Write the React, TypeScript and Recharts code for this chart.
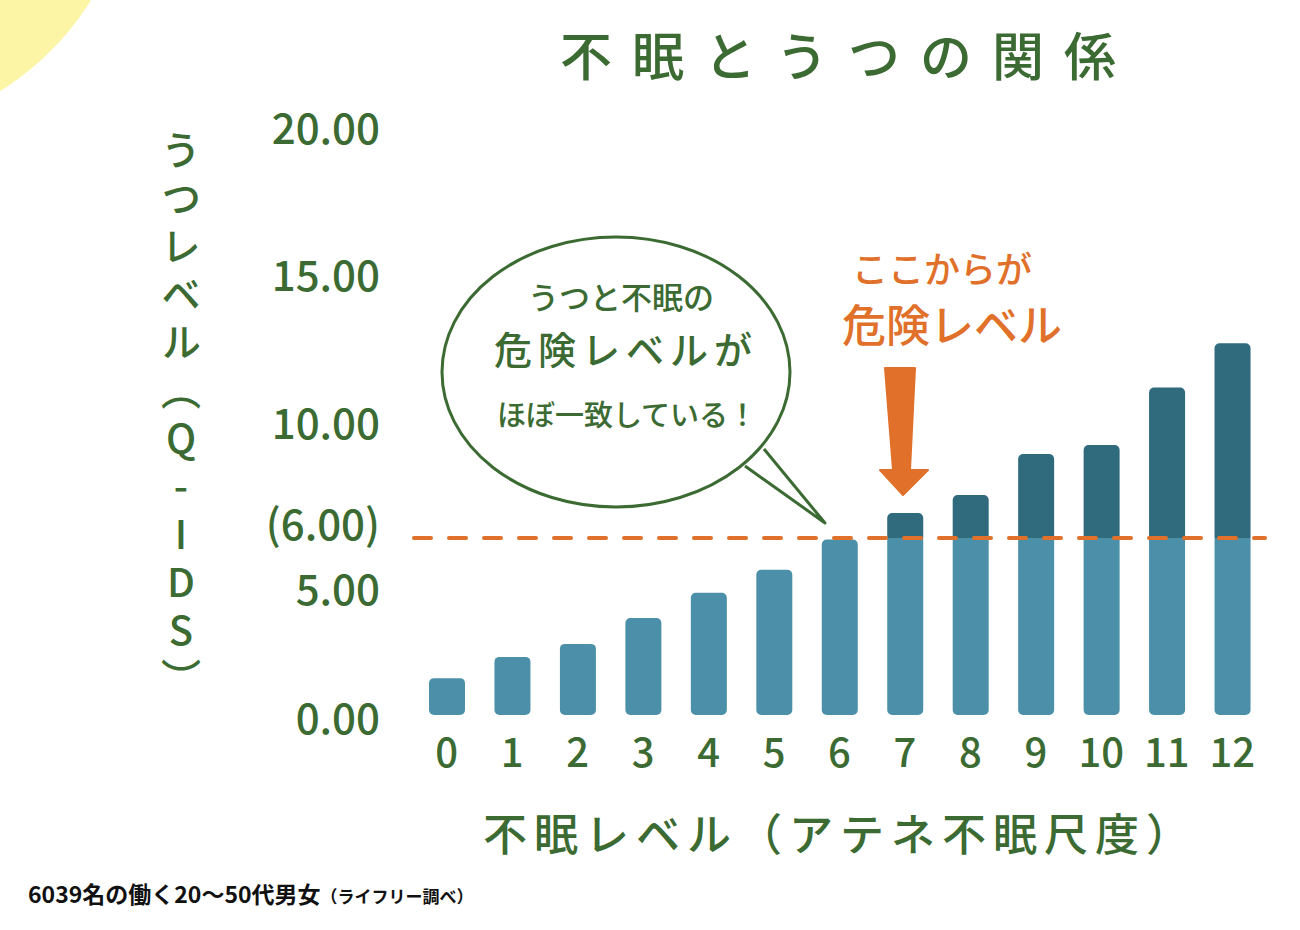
import React from "react";
import { BarChart, Bar, XAxis, YAxis, ReferenceLine, Rectangle } from "recharts";

// 不眠レベル（アテネ不眠尺度） 0〜12
const insomniaLevels = ["0", "1", "2", "3", "4", "5", "6", "7", "8", "9", "10", "11", "12"];
// うつレベル（Q-IDS）平均値
const depressionScores = [1.25, 1.97, 2.41, 3.29, 4.14, 4.92, 5.95, 6.85, 7.46, 8.85, 9.15, 11.1, 12.6];
const dangerLine = 6;
const yTicks = [0, 5, 6, 10, 15, 20];

const GREEN = "#3b6b32";
const ORANGE = "#e0702a";
const LIGHT = "#4b8fa9";
const DARK = "#2f6a7d";
const FONT = "'Noto Sans CJK JP', 'Noto Sans', sans-serif";

const data = insomniaLevels.map((level, i) => ({
  level,
  base: Math.min(depressionScores[i], dangerLine),
  over: Math.max(depressionScores[i] - dangerLine, 0),
}));

const BaseShape = (props: any) => {
  const r = props.payload && props.payload.over > 0 ? [0, 0, 5, 5] : [5, 5, 5, 5];
  return <Rectangle {...props} radius={r} />;
};

const OverShape = (props: any) => <Rectangle {...props} radius={[5, 5, 0, 0]} />;

const YTick = (props: any) => {
  const { x, y, payload } = props;
  const v = payload.value;
  const label = v === dangerLine ? "(6.00)" : v.toFixed(2);
  // 5 と 6 のラベルが重ならないよう少しずらす
  const dy = v === dangerLine ? -17 : v === 5 ? 19 : 0;
  return (
    <text x={x} y={y + dy} textAnchor="end" dominantBaseline="central" fill={GREEN} fontSize={42} fontFamily={FONT} fontWeight={500}>
      {label}
    </text>
  );
};

const App = () => {
  return (
    <div style={{ position: "absolute", left: 0, top: 0, width: 1300, height: 930, background: "#fff", overflow: "hidden", fontFamily: FONT }}>
      <svg width={1300} height={930} style={{ position: "absolute", left: 0, top: 0 }}>
        <circle cx={-150} cy={-150} r={284} fill="#fdf5a6" />
      </svg>

      <div style={{ position: "absolute", left: 0, top: 0 }}>
        <BarChart width={1300} height={930} data={data} margin={{ top: 125, right: 35, left: 0, bottom: 0 }}>
          <XAxis
            dataKey="level"
            height={215}
            interval={0}
            tickLine={false}
            axisLine={false}
            tickSize={0}
            tickMargin={24}
            tick={{ fill: GREEN, fontSize: 40, fontFamily: FONT, fontWeight: 500 }}
          />
          <YAxis
            domain={[0, 20]}
            ticks={yTicks}
            interval={0}
            width={414}
            tickLine={false}
            axisLine={false}
            tickSize={0}
            tickMargin={34}
            tick={<YTick />}
          />
          <Bar dataKey="base" stackId="q" fill={LIGHT} barSize={36} shape={<BaseShape />} isAnimationActive={false} />
          <Bar dataKey="over" stackId="q" fill={DARK} barSize={36} shape={<OverShape />} isAnimationActive={false} />
          <ReferenceLine y={dangerLine} stroke={ORANGE} strokeWidth={4} strokeDasharray="17 18" strokeLinecap="round" />
        </BarChart>
      </div>

      <svg width={1300} height={930} style={{ position: "absolute", left: 0, top: 0, pointerEvents: "none" }}>
        <ellipse cx={616} cy={372} rx={174} ry={135} fill="#fff" stroke={GREEN} strokeWidth={3} />
        <path d="M 745 466 L 825 523 L 764 449" fill="#fff" stroke={GREEN} strokeWidth={3} strokeLinejoin="round" />
        <path d="M 885 368 L 915 368 L 910 470 L 928 470 L 903 495 L 880 470 L 893 470 Z" fill={ORANGE} stroke={ORANGE} strokeWidth={2} strokeLinejoin="round" />
      </svg>

      <div style={{ position: "absolute", left: 0, width: 1696, top: 22, textAlign: "center", fontSize: 52, letterSpacing: 20, color: GREEN, fontWeight: 500, lineHeight: "64px", whiteSpace: "nowrap" }}>
        不眠とうつの関係
      </div>

      <div style={{ position: "absolute", left: 158, top: 130, writingMode: "vertical-rl", textOrientation: "upright", fontSize: 40, letterSpacing: 8, color: GREEN, fontWeight: 500, lineHeight: "46px", whiteSpace: "nowrap" }}>
        うつレベル（Q-IDS）
      </div>

      <div style={{ position: "absolute", left: 440, width: 800, top: 804, textAlign: "center", fontSize: 44, letterSpacing: 7, color: GREEN, fontWeight: 500, lineHeight: "56px", whiteSpace: "nowrap" }}>
        不眠レベル（アテネ不眠尺度）
      </div>

      <div style={{ position: "absolute", left: 426, width: 390, top: 279, textAlign: "center", fontSize: 31, color: GREEN, fontWeight: 500, lineHeight: "34px", whiteSpace: "nowrap" }}>
        うつと不眠の
      </div>
      <div style={{ position: "absolute", left: 426, width: 400, top: 327, textAlign: "center", fontSize: 38, letterSpacing: 6, color: GREEN, fontWeight: 500, lineHeight: "42px", whiteSpace: "nowrap" }}>
        危険レベルが
      </div>
      <div style={{ position: "absolute", left: 426, width: 402, top: 395, textAlign: "center", fontSize: 29, color: GREEN, fontWeight: 500, lineHeight: "36px", whiteSpace: "nowrap" }}>
        ほぼ一致している！
      </div>

      <div style={{ position: "absolute", left: 852, top: 246, fontSize: 36, color: ORANGE, fontWeight: 500, lineHeight: "42px", whiteSpace: "nowrap" }}>
        ここからが
      </div>
      <div style={{ position: "absolute", left: 842, top: 298, fontSize: 44, color: ORANGE, fontWeight: 500, lineHeight: "50px", whiteSpace: "nowrap" }}>
        危険レベル
      </div>

      <div style={{ position: "absolute", left: 28, top: 878, color: "#111", fontWeight: 700, whiteSpace: "nowrap", lineHeight: "30px" }}>
        <span style={{ fontSize: 23 }}>6039名の働く20～50代男女</span>
        <span style={{ fontSize: 17 }}>（ライフリー調べ）</span>
      </div>
    </div>
  );
};

export default App;
